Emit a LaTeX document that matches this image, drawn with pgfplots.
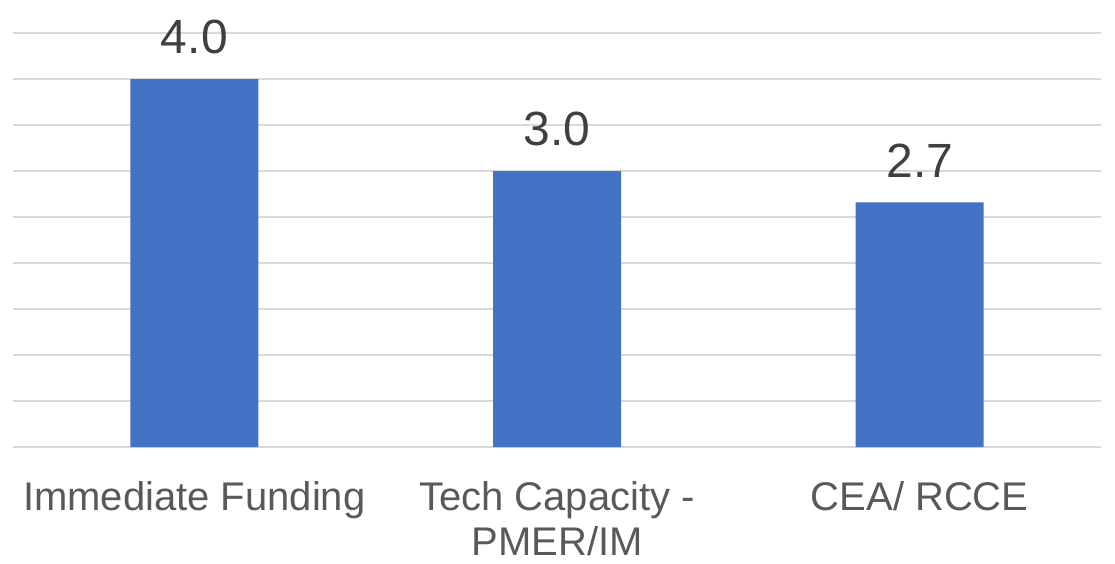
\documentclass[border=0pt]{standalone}
\usepackage{pgfplots}
\pgfplotsset{compat=1.18}
\usetikzlibrary{calc}
\usepackage{fontspec}
\setmainfont{Liberation Sans}
\definecolor{barblue}{HTML}{4472C4}
\definecolor{gridgray}{HTML}{D9D9D9}
\definecolor{labgray}{HTML}{404040}
\definecolor{tickgray}{HTML}{595959}
\begin{document}
\begin{tikzpicture}
\begin{axis}[
  scale only axis,
  width=1088pt, height=414pt,
  xmin=-0.5, xmax=2.5, ymin=0, ymax=4.5,
  ybar, bar width=128pt,
  xtick={0,1,2},
  xticklabels={Immediate Funding, {Tech Capacity -\\PMER/IM}, CEA/ RCCE},
  xticklabel style={align=center, anchor=north, inner sep=0pt, yshift=-30pt,
    font=\fontsize{40}{45}\selectfont, text=tickgray},
  ytick={0,0.5,...,4.5},
  yticklabels={},
  ymajorgrids, grid style={draw=gridgray, line width=1.5pt},
  axis line style={draw=none},
  major tick style={draw=none},
  clip=false,
  nodes near coords,
  point meta=explicit,
  nodes near coords style={/pgf/number format/.cd, fixed, fixed zerofill, precision=1, /tikz/.cd,
    anchor=south, inner sep=0pt, yshift=25pt, font=\fontsize{48}{58}\selectfont, text=labgray},
  /pgf/number format/assume math mode=true,
]
\addplot[fill=barblue, draw=none] coordinates {(0,4.0) [4.0] (1,3.0) [3.0] (2,2.66) [2.66]};
\end{axis}
\pgfresetboundingbox
\path ($(current axis.south west)+(-13pt,-116pt)$) rectangle ($(current axis.north east)+(14pt,33pt)$);
\end{tikzpicture}
\end{document}
